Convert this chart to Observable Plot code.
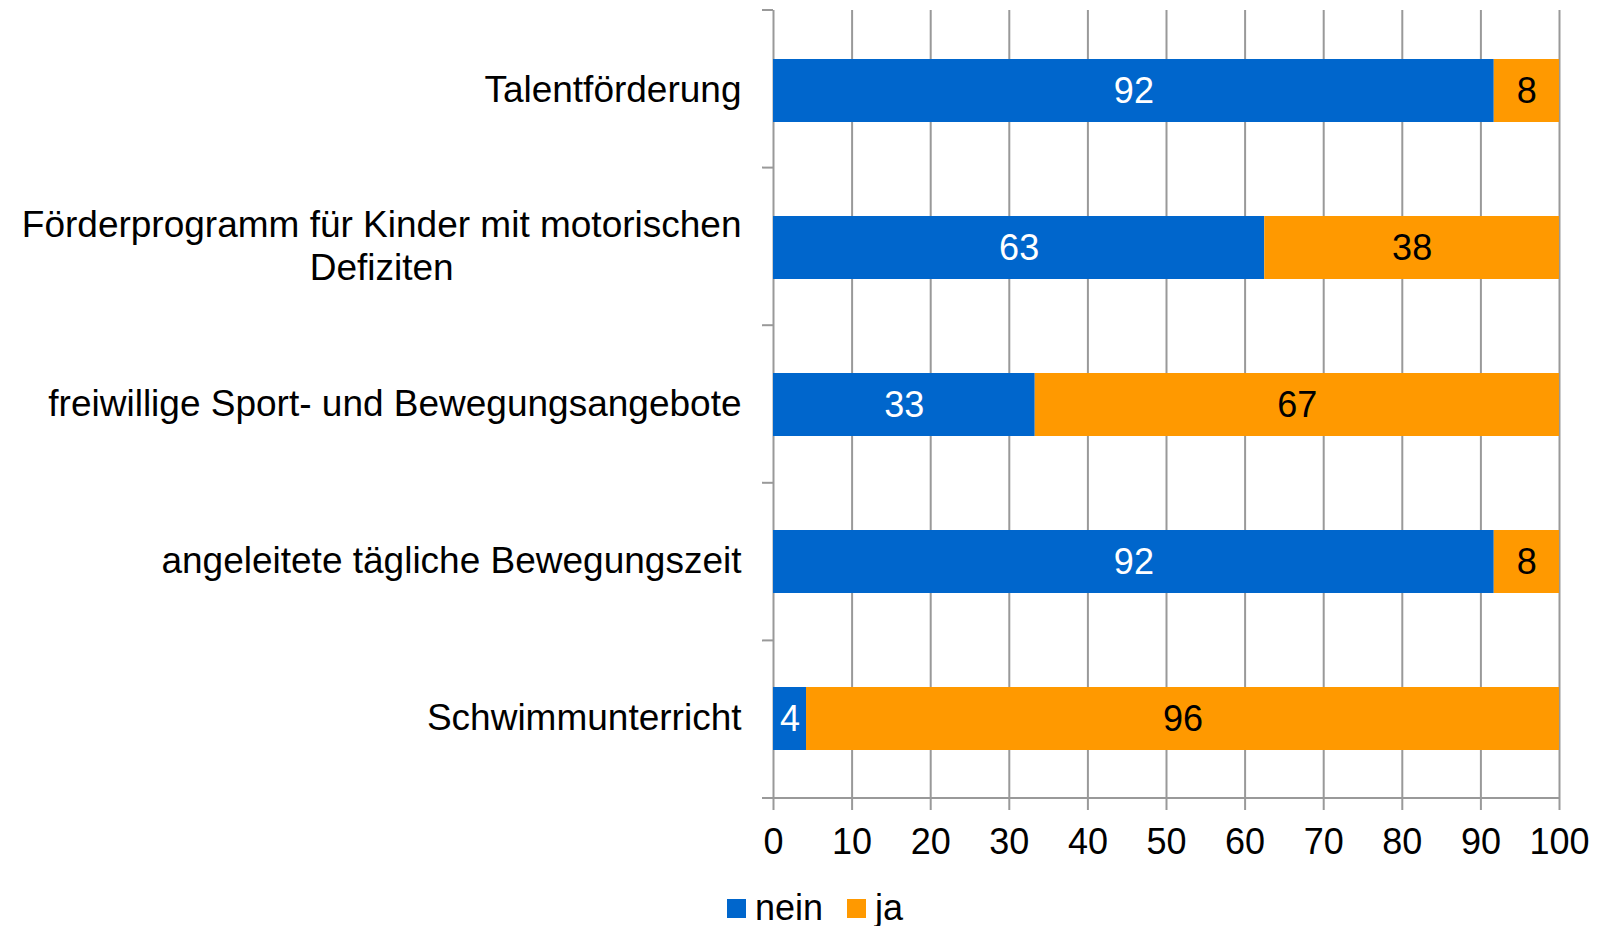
<!DOCTYPE html>
<html>
<head>
<meta charset="utf-8">
<script src="https://cdn.jsdelivr.net/npm/d3@7"></script>
<script src="https://cdn.jsdelivr.net/npm/@observablehq/plot@0.6"></script>
<style>
  html, body { margin: 0; padding: 0; background: #fff; }
  body { width: 1602px; height: 926px; overflow: hidden; font-family: "Liberation Sans", Arial, sans-serif; }
  #legend { height: 36px; display: flex; align-items: center; padding-left: 727px; font-size: 36px; color: #000; line-height: 36px; }
  #legend .sw { width: 19px; height: 19px; display: inline-block; margin-right: 9px; }
  #legend .item { display: flex; align-items: center; margin-right: 24px; }
</style>
</head>
<body>
<div id="chart"></div>
<div id="legend"></div>
<script>
const categories = [
  "Talentförderung",
  "Förderprogramm für Kinder mit motorischen\nDefiziten",
  "freiwillige Sport- und Bewegungsangebote",
  "angeleitete tägliche Bewegungszeit",
  "Schwimmunterricht"
];
const series = ["nein", "ja"];
const neinValues = [91.7, 62.5, 33.3, 91.7, 4.2];
const jaValues = [8.3, 37.5, 66.7, 8.3, 95.8];
const xTicks = [0, 10, 20, 30, 40, 50, 60, 70, 80, 90, 100];
const colors = ["#0066CC", "#FF9900"];

const data = [];
categories.forEach((c, i) => {
  data.push({cat: c, series: "nein", value: neinValues[i]});
  data.push({cat: c, series: "ja", value: jaValues[i]});
});

const W = 1602, H = 890;
const mTop = 10, mBottom = 92, mLeft = 773, mRight = 43;

function bandTicks() {
  return (index, scales, values, dimensions) => {
    const {marginTop, marginBottom, marginLeft, marginRight, height, width} = dimensions;
    const n = categories.length;
    const step = (height - marginTop - marginBottom) / n;
    const g = d3.create("svg:g").attr("stroke", "#999").attr("stroke-width", 2);
    for (let i = 0; i <= n; i++) {
      const yy = marginTop + i * step;
      g.append("line").attr("x1", marginLeft - 11).attr("x2", marginLeft).attr("y1", yy).attr("y2", yy);
    }
    const yb = height - marginBottom;
    g.append("line").attr("x1", marginLeft - 11).attr("x2", width - marginRight).attr("y1", yb).attr("y2", yb);
    return g.node();
  };
}

const chart = Plot.plot({
  width: W,
  height: H,
  marginTop: mTop,
  marginBottom: mBottom,
  marginLeft: mLeft,
  marginRight: mRight,
  style: {fontFamily: "'Liberation Sans', Arial, sans-serif", fontSize: "36px", background: "transparent", color: "#000"},
  x: {domain: [0, 100]},
  y: {domain: categories, paddingInner: 0.6, paddingOuter: 0.3, axis: null},
  color: {domain: series, range: colors},
  marks: [
    Plot.gridX(xTicks, {stroke: "#999", strokeOpacity: 1, strokeWidth: 2}),
    Plot.barX(data, {x: "value", y: "cat", fill: "series"}),
    Plot.text(data, Plot.stackX({x: "value", y: "cat", text: d => d.series === "nein" ? String(Math.round(d.value)) : null, fill: "white", fontSize: 36})),
    Plot.text(data, Plot.stackX({x: "value", y: "cat", text: d => d.series === "ja" ? String(Math.round(d.value)) : null, fill: "black", fontSize: 36})),
    bandTicks(),
    Plot.axisX(xTicks, {tickSize: 12, tickPadding: 18, stroke: "#999", strokeWidth: 2, fontSize: 36, fill: "black", label: null}),
    Plot.text(categories, {y: d => d, frameAnchor: "left", textAnchor: "end", dx: -32, dy: -3, lineHeight: 1.16, fontSize: 37, fill: "black"})
  ]
});
document.getElementById("chart").appendChild(chart);

// center multi-line category labels as a block
chart.querySelectorAll("text").forEach(t => {
  const spans = t.querySelectorAll("tspan");
  if (spans.length > 1) {
    let maxW = 0;
    spans.forEach(s => { maxW = Math.max(maxW, s.getComputedTextLength()); });
    t.setAttribute("text-anchor", "middle");
    t.style.textAnchor = "middle";
    spans.forEach(s => s.setAttribute("x", -maxW / 2));
  }
});

const legend = d3.select("#legend");
series.forEach((s, i) => {
  const it = legend.append("div").attr("class", "item");
  it.append("span").attr("class", "sw").style("background", colors[i]);
  it.append("span").text(s);
});
</script>
</body>
</html>
